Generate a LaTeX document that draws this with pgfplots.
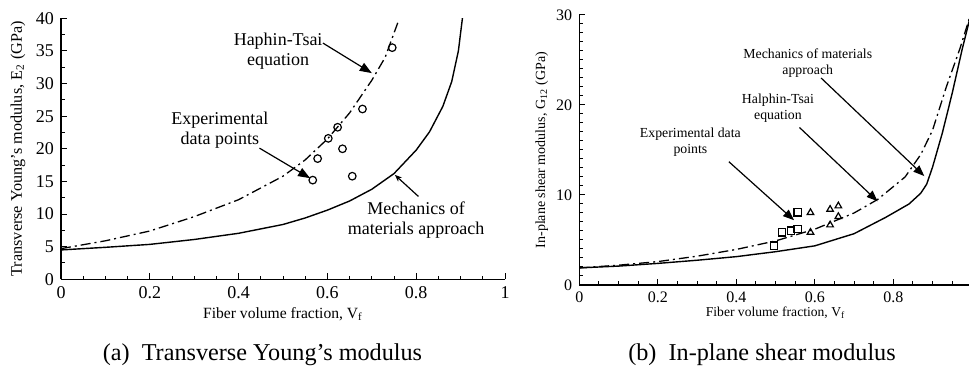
\documentclass[border=0pt]{standalone}
\usepackage{fontspec}
\setmainfont{Liberation Serif}
\usepackage{pgfplots}
\pgfplotsset{compat=1.18}
\usetikzlibrary{arrows.meta}
\begin{document}
\begin{tikzpicture}
\useasboundingbox (0,0) rectangle (484.5pt,184.5pt);
\pgfplotsset{
  common/.style={
    scale only axis, axis lines=left, axis line style={-, line width=0.6pt},
    tick align=inside, major tick length=3pt, minor tick length=1.8pt,
    tick style={line width=0.5pt, black},
    xmin=0, xmax=1, xtick={0,0.2,0.4,0.6,0.8,1}, minor x tick num=3,
    /pgf/number format/assume math mode=true,
    clip=true,
  },
  htdash/.style={black, line width=0.65pt, dash pattern=on 5pt off 2pt on 1pt off 2pt},
  mech/.style={black, line width=0.7pt},
}
% ---------------- (a) ----------------
\begin{axis}[common, name=L, at={(30.5pt,44.85pt)}, anchor=south west,
  width=222pt, height=130.5pt,
  ymin=0, ymax=40, ytick={0,5,...,40}, minor y tick num=1,
  tick label style={font=\fontsize{9}{10}\selectfont},
  ylabel={Transverse Young’s modulus, E\textsubscript{2} (GPa)},
  label style={font=\fontsize{8.1}{9}\selectfont},
  ylabel style={at={([xshift=-21.5pt]axis description cs:0,0.5)}, anchor=center},
]
\addplot[mech] coordinates {
(0,4.5) (0.1,4.9) (0.2,5.35) (0.3,6.1) (0.4,7.05) (0.5,8.4) (0.55,9.4) (0.6,10.6)
(0.65,12.0) (0.7,13.8) (0.75,16.2) (0.8,19.8) (0.83,22.6) (0.86,26.5) (0.88,30.3)
(0.895,35) (0.905,40.5)};
\addplot[htdash] coordinates {
(0,4.7) (0.1,5.9) (0.2,7.4) (0.3,9.6) (0.4,12.2) (0.5,15.8) (0.55,18.3) (0.6,21.5)
(0.65,25.5) (0.7,30.5) (0.73,34) (0.76,39.6)};
\addplot[only marks, mark=o, mark size=1.9pt, mark options={line width=0.6pt, black}] coordinates {
(0.567,15.2) (0.578,18.5) (0.602,21.6) (0.623,23.3) (0.634,20.0) (0.656,15.8) (0.679,26.1) (0.746,35.5)};
\node[font=\fontsize{9}{10}\selectfont, align=center] at (axis cs:0.489,34.9) {Haphin-Tsai\\equation};
\draw[line width=0.6pt, -{Triangle[length=6pt,width=4.5pt]}] (axis cs:0.59,36.2) -- (axis cs:0.70,31.6);
\node[font=\fontsize{9}{10}\selectfont, align=center] at (axis cs:0.358,22.8) {Experimental\\data points};
\draw[line width=0.6pt, -{Triangle[length=6pt,width=4.5pt]}] (axis cs:0.447,20.1) -- (axis cs:0.561,15.5);
\node[font=\fontsize{9}{10}\selectfont, align=center] at (axis cs:0.80,9.0) {Mechanics of\\materials approach};
\draw[line width=0.6pt, -{Stealth[length=3.5pt,width=2.8pt]}] (axis cs:0.805,12.7) -- (axis cs:0.752,16.0);
\end{axis}
\node[font=\fontsize{7.8}{9}\selectfont] at ([yshift=-17.5pt]L.south) {Fiber volume fraction, V\textsubscript{f}};
% ---------------- (b) ----------------
\begin{axis}[common, name=R, at={(289.65pt,42pt)}, anchor=south west,
  width=196.25pt, height=135pt,
  ymin=0, ymax=30, ytick={0,10,20,30}, minor y tick num=9,
  tick label style={font=\fontsize{8}{9}\selectfont},
  ylabel={In-plane shear modulus, G\textsubscript{12} (GPa)},
  label style={font=\fontsize{7}{8}\selectfont},
  ylabel style={at={([xshift=-18.8pt]axis description cs:0,0.5)}, anchor=center},
]
\addplot[mech] coordinates {
(0,1.9) (0.1,2.1) (0.2,2.4) (0.3,2.75) (0.4,3.15) (0.5,3.7) (0.6,4.35) (0.7,5.7)
(0.78,7.5) (0.84,9.0) (0.87,10.2) (0.885,11.2) (0.9,13.1) (0.925,16.9) (0.95,21.3)
(0.975,26.1) (1.0,30.5)};
\addplot[htdash] coordinates {
(0,1.9) (0.1,2.2) (0.2,2.6) (0.3,3.2) (0.4,3.95) (0.5,4.9) (0.6,6.2) (0.7,8.0)
(0.76,9.5) (0.83,12.0) (0.87,14.5) (0.9,17.2) (0.935,22) (0.97,26.3) (1.0,30.5)};
\addplot[only marks, mark=square, mark size=1.8pt, mark options={line width=0.6pt, black}] coordinates {
(0.496,4.37) (0.516,5.85) (0.539,6.04) (0.556,6.19) (0.556,8.07)};
\addplot[only marks, mark=triangle, mark size=1.9pt, mark options={line width=0.6pt, black}] coordinates {
(0.589,8.04) (0.589,5.85) (0.639,8.4) (0.639,6.67) (0.660,8.78) (0.660,7.6)};
\node[font=\fontsize{6.9}{8}\selectfont, align=center] at (axis cs:0.582,24.7) {Mechanics of materials\\approach};
\draw[line width=0.6pt, -{Triangle[length=5.5pt,width=4.2pt]}] (axis cs:0.616,23.0) -- (axis cs:0.879,12.1);
\node[font=\fontsize{6.9}{8}\selectfont, align=center] at (axis cs:0.506,19.7) {Halphin-Tsai\\equation};
\draw[line width=0.6pt, -{Triangle[length=5.5pt,width=4.2pt]}] (axis cs:0.561,17.5) -- (axis cs:0.760,9.3);
\node[font=\fontsize{6.9}{8}\selectfont, align=center] at (axis cs:0.283,15.9) {Experimental data\\points};
\draw[line width=0.6pt, -{Triangle[length=5.5pt,width=4.2pt]}] (axis cs:0.381,13.7) -- (axis cs:0.547,7.2);
\end{axis}
\node[font=\fontsize{6.8}{8}\selectfont] at ([yshift=-14pt]R.south) {Fiber volume fraction, V\textsubscript{f}};
% captions
\node[font=\fontsize{12.1}{14}\selectfont] at (131.25pt,7pt) {(a)\hspace{0.5em}Transverse Young’s modulus};
\node[font=\fontsize{12.1}{14}\selectfont] at (381pt,7pt) {(b)\hspace{0.5em}In-plane shear modulus};
\end{tikzpicture}
\end{document}
